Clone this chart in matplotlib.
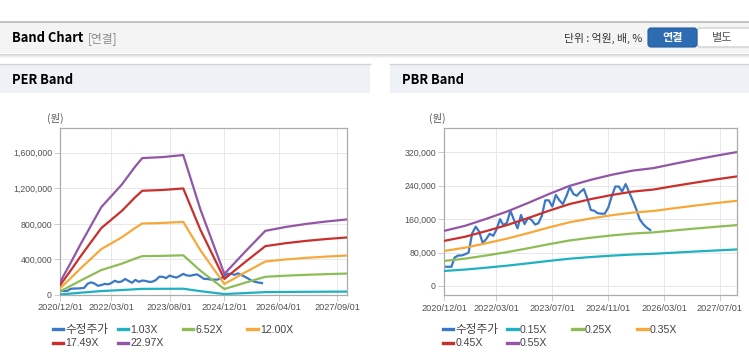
import numpy as np
import pandas as pd
import matplotlib
matplotlib.use("Agg")
import matplotlib.pyplot as plt
import matplotlib.dates as mdates
from matplotlib.patches import Rectangle, FancyBboxPatch
from matplotlib.ticker import FuncFormatter
from matplotlib.legend import Legend

W, H = 749, 364
KR = ["Noto Sans CJK KR", "DejaVu Sans"]
LAT = ["Liberation Sans", "Noto Sans CJK KR"]

# adjusted close, monthly from 2020/12
price = [46000, 46000, 46000, 68000, 73000, 73000, 76000, 80000, 126000, 142000,
         130000, 103000, 112000, 125000, 120000, 135000, 160000, 145000, 152000, 180000,
         158000, 138000, 170000, 148000, 163000, 158000, 147000, 150000, 168000, 205000,
         205000, 190000, 218000, 205000, 196000, 215000, 237000, 220000, 216000, 225000,
         232000, 210000, 182000, 180000, 174000, 173000, 173000, 188000, 215000, 238000,
         238000, 226000, 244000, 225000, 205000, 185000, 160000, 148000, 140000, 134000]

per_dates = ["2020-12-01", "2021-03-01", "2021-06-01", "2021-12-01", "2022-06-01",
             "2022-10-01", "2022-12-01", "2023-06-01", "2023-12-01", "2024-05-01",
             "2024-12-01", "2025-06-01", "2025-12-01", "2026-06-01", "2026-12-01",
             "2027-06-01", "2027-12-01"]
per_1_03 = [6700, 16000, 25800, 44300, 55600, 64900, 69000, 69500, 70600, 43300,
            10600, 21600, 32300, 34300, 35800, 37100, 38100]
per_6_52 = [42400, 101100, 163000, 280400, 352100, 410800, 436800, 440100, 446600, 273800,
            67200, 136900, 204700, 217100, 226900, 234700, 241200]
per_12_00 = [78000, 186000, 300000, 516000, 648000, 756000, 804000, 810000, 822000, 504000,
             123600, 252000, 376800, 399600, 417600, 432000, 444000]
per_17_49 = [113700, 271100, 437300, 752100, 944500, 1101900, 1171800, 1180600, 1198100, 734600,
             180100, 367300, 549200, 582400, 608700, 629600, 647100]
per_22_97 = [149300, 356000, 574300, 987700, 1240400, 1447100, 1539000, 1550500, 1573400, 964700,
             236600, 482400, 721300, 764900, 799400, 826900, 849900]
per_labels = ["수정주가", "1.03X", "6.52X", "12.00X", "17.49X", "22.97X"]
per_xticks = ["2020-12-01", "2022-03-01", "2023-08-01", "2024-12-01", "2026-04-01", "2027-09-01"]
per_yticks = [0, 400000, 800000, 1200000, 1600000]

pbr_dates = ["2020-12-01", "2021-06-01", "2021-12-01", "2022-06-01", "2022-12-01",
             "2023-06-01", "2023-12-01", "2024-06-01", "2024-12-01", "2025-06-01",
             "2025-12-01", "2026-06-01", "2026-12-01", "2027-06-01", "2027-12-01"]
pbr_0_15 = [36000, 39300, 43800, 48600, 54200, 60000, 65400, 69300, 72600, 75300,
            77000, 79800, 82500, 85000, 87500]
pbr_0_25 = [60000, 65500, 73000, 81000, 90300, 100000, 109000, 115500, 121000, 125500,
            128300, 133000, 137500, 141800, 145800]
pbr_0_35 = [84000, 91700, 102200, 113400, 126400, 140000, 152600, 161700, 169400, 175700,
            179600, 186200, 192500, 198500, 204000]
pbr_0_45 = [108000, 117900, 131400, 145800, 162500, 180000, 196200, 207900, 217800, 225900,
            230900, 239400, 247500, 255200, 262400]
pbr_0_55 = [132000, 144100, 160600, 178200, 198600, 220000, 239800, 254100, 266200, 276100,
            282200, 292600, 302500, 311900, 320700]
pbr_labels = ["수정주가", "0.15X", "0.25X", "0.35X", "0.45X", "0.55X"]
pbr_xticks = ["2020-12-01", "2022-03-01", "2023-07-01", "2024-11-01", "2026-03-01", "2027-07-01"]
pbr_yticks = [0, 80000, 160000, 240000, 320000]

colors = ["#3b78c6", "#1fb1c2", "#8dbd55", "#f6a93a", "#c9302c", "#9356a6"]

fig = plt.figure(figsize=(W / 100, H / 100), dpi=100)
fig.patch.set_facecolor("white")

# page furniture, drawn in pixel coordinates
bg = fig.add_axes([0, 0, 1, 1], zorder=0)
bg.set_xlim(0, W)
bg.set_ylim(H, 0)
bg.axis("off")
bg.add_patch(Rectangle((0, 22), W, 31, facecolor="#f4f4f4", edgecolor="none"))
bg.plot([0, W], [22, 22], color="#b9b9b9", lw=1.2)
for i, a in enumerate([0.35, 0.22, 0.12, 0.05]):
    bg.plot([0, W], [53.5 + i, 53.5 + i], color="#888888", alpha=a, lw=0.8)
bg.text(12, 38.5, "Band Chart", fontsize=9.3, fontweight="bold", family=KR, va="center")
bg.text(88, 38.5, "[연결]", fontsize=8.5, color="#8a8a8a", family=KR, va="center")
bg.text(642, 38.5, "단위 : 억원, 배, %", fontsize=7.8, color="#333333", family=KR,
        va="center", ha="right")
bg.add_patch(FancyBboxPatch((697, 28), 55, 19, boxstyle="round,pad=0,rounding_size=3",
                            facecolor="white", edgecolor="#c6c6c6", lw=0.8))
bg.add_patch(FancyBboxPatch((648, 28), 49, 19, boxstyle="round,pad=0,rounding_size=3",
                            facecolor="#2d6cb3", edgecolor="#255d9c", lw=0.8))
bg.text(672.5, 37.8, "연결", fontsize=8, fontweight="bold", color="white", family=KR,
        ha="center", va="center")
bg.text(722, 37.8, "별도", fontsize=8, color="#555555", family=KR, ha="center", va="center")

for x0, x1, title in [(0, 370, "PER Band"), (390, W, "PBR Band")]:
    bg.add_patch(Rectangle((x0, 64), x1 - x0, 29, facecolor="#eef1f6", edgecolor="none"))
    bg.plot([x0, x1], [64.3, 64.3], color="#d2d2d2", lw=1)
    bg.text(x0 + 12, 79.5, title, fontsize=9.3, fontweight="bold", family=KR, va="center")


def px_axes(left, top, right, bottom):
    return fig.add_axes([left / W, 1 - bottom / H, (right - left) / W, (bottom - top) / H],
                        zorder=2)


def style(ax, xticks, yticks, ylim):
    ax.set_xlim(pd.Timestamp("2020-12-01"), pd.Timestamp("2027-12-01"))
    ax.set_ylim(*ylim)
    ax.set_xticks(pd.to_datetime(xticks))
    ax.set_yticks(yticks)
    ax.xaxis.set_major_formatter(mdates.DateFormatter("%Y/%m/%d"))
    ax.yaxis.set_major_formatter(FuncFormatter(lambda v, _: f"{v:,.0f}"))
    ax.grid(True, color="#e8e8e8", lw=0.7)
    ax.set_axisbelow(True)
    for s in ax.spines.values():
        s.set_color("#ababab")
        s.set_linewidth(0.9)
    ax.tick_params(length=4, width=0.6, color="#c4c4c4", pad=2, labelcolor="#505050")
    for t in ax.get_xticklabels():
        t.set_fontsize(6.6)
        t.set_family(LAT)
    for t in ax.get_yticklabels():
        t.set_fontsize(6.3)
        t.set_family(LAT)


def legend(ax, lines, labels, xs, ys):
    for i, (ln, lab) in enumerate(zip(lines, labels)):
        x = xs[i % 4]
        y = ys[i // 4]
        size = 8.4 if i == 0 else 7.6
        leg = Legend(ax, [ln], [lab], loc="center left", bbox_to_anchor=(x / W, 1 - y / H),
                     bbox_transform=fig.transFigure, frameon=False, borderpad=0,
                     borderaxespad=0, handlelength=7.6 / size, handletextpad=0.2 * 7.6 / size,
                     prop={"family": LAT, "size": size})
        for t in leg.get_texts():
            t.set_color("#444444")
        for h in leg.legend_handles:
            h.set_linewidth(2.4)
        ax.add_artist(leg)


months = pd.date_range("2020-12-01", periods=len(price), freq="MS")

ax1 = px_axes(60.3, 128.3, 347.3, 295)
per_series = [per_1_03, per_6_52, per_12_00, per_17_49, per_22_97]
lines1 = [ax1.plot(months, price, color=colors[0], lw=1.6, zorder=2)[0]]
for k, vals in enumerate(per_series):
    lines1.append(ax1.plot(pd.to_datetime(per_dates), vals, color=colors[k + 1], lw=1.6,
                           zorder=3 + k)[0])
style(ax1, per_xticks, per_yticks, (0, 1874000))
bg.text(55, 118, "(원)", fontsize=7.5, color="#555555", family=KR, ha="center", va="center")
legend(ax1, lines1, per_labels, [52.7, 117.7, 182.7, 247.3], [330, 343.5])

ax2 = px_axes(444.3, 128.3, 737.3, 295.3)
pbr_series = [pbr_0_15, pbr_0_25, pbr_0_35, pbr_0_45, pbr_0_55]
lines2 = [ax2.plot(months, price, color=colors[0], lw=1.6, zorder=2)[0]]
for k, vals in enumerate(pbr_series):
    lines2.append(ax2.plot(pd.to_datetime(pbr_dates), vals, color=colors[k + 1], lw=1.6,
                           zorder=3 + k)[0])
style(ax2, pbr_xticks, pbr_yticks, (-22300, 377400))
bg.text(437, 118, "(원)", fontsize=7.5, color="#555555", family=KR, ha="center", va="center")
legend(ax2, lines2, pbr_labels, [442.7, 507.3, 572.3, 637.3], [330, 343.5])

fig.savefig("out.png", dpi=100)
